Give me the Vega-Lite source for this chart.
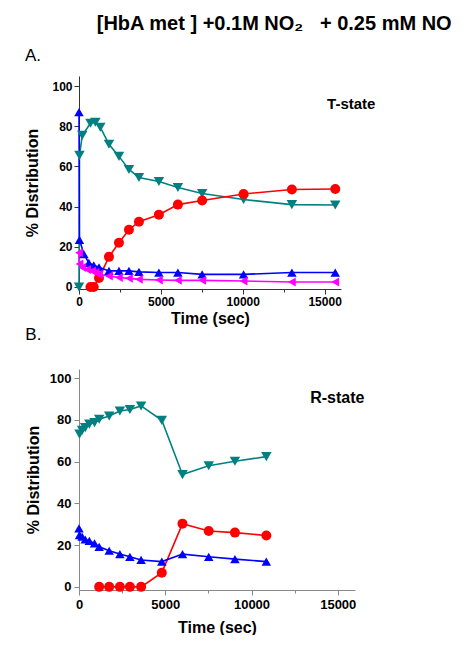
{
  "$schema": "https://vega.github.io/schema/vega-lite/v6.json",
  "padding": {"left": 24, "top": 14, "right": 0, "bottom": 0},
  "background": "white",
  "title": {"text": "[HbA met ] +0.1M NO₂\u00a0\u00a0\u00a0+ 0.25 mM NO", "font": "Liberation Sans", "fontSize": 20, "fontWeight": "bold", "color": "#000", "anchor": "middle", "dx": 74, "offset": 13},
  "datasets": {
    "A": [
      {"series": "teal", "t": 0, "v": 0}, {"series": "teal", "t": 30, "v": 65.5}, {"series": "teal", "t": 200, "v": 75.5}, {"series": "teal", "t": 700, "v": 81.5}, {"series": "teal", "t": 1000, "v": 82}, {"series": "teal", "t": 1300, "v": 79.5}, {"series": "teal", "t": 1830, "v": 71}, {"series": "teal", "t": 2440, "v": 65}, {"series": "teal", "t": 3050, "v": 58.5}, {"series": "teal", "t": 3660, "v": 54.5}, {"series": "teal", "t": 4880, "v": 52.5}, {"series": "teal", "t": 6040, "v": 49.5}, {"series": "teal", "t": 7520, "v": 46.5}, {"series": "teal", "t": 10050, "v": 43.5}, {"series": "teal", "t": 13000, "v": 41}, {"series": "teal", "t": 15650, "v": 40.8},
      {"series": "red", "t": 700, "v": 0}, {"series": "red", "t": 900, "v": 0}, {"series": "red", "t": 1220, "v": 4.5}, {"series": "red", "t": 1830, "v": 15}, {"series": "red", "t": 2440, "v": 22}, {"series": "red", "t": 3050, "v": 28.5}, {"series": "red", "t": 3660, "v": 32.5}, {"series": "red", "t": 4880, "v": 36}, {"series": "red", "t": 6040, "v": 41}, {"series": "red", "t": 7520, "v": 43}, {"series": "red", "t": 10050, "v": 46.3}, {"series": "red", "t": 13000, "v": 48.5}, {"series": "red", "t": 15650, "v": 48.8},
      {"series": "blue", "t": 0, "v": 87}, {"series": "blue", "t": 30, "v": 23.5}, {"series": "blue", "t": 300, "v": 16.3}, {"series": "blue", "t": 600, "v": 12}, {"series": "blue", "t": 900, "v": 10.8}, {"series": "blue", "t": 1220, "v": 9.8}, {"series": "blue", "t": 1830, "v": 8}, {"series": "blue", "t": 2440, "v": 8}, {"series": "blue", "t": 3050, "v": 8}, {"series": "blue", "t": 3660, "v": 7.5}, {"series": "blue", "t": 4880, "v": 7.2}, {"series": "blue", "t": 6040, "v": 7.2}, {"series": "blue", "t": 7520, "v": 6.3}, {"series": "blue", "t": 10050, "v": 6.3}, {"series": "blue", "t": 13000, "v": 7.2}, {"series": "blue", "t": 15650, "v": 7.2},
      {"series": "magenta", "t": 0, "v": 17}, {"series": "magenta", "t": 30, "v": 11.5}, {"series": "magenta", "t": 200, "v": 9.7}, {"series": "magenta", "t": 500, "v": 8.7}, {"series": "magenta", "t": 800, "v": 8}, {"series": "magenta", "t": 1000, "v": 7.2}, {"series": "magenta", "t": 1220, "v": 6.3}, {"series": "magenta", "t": 1830, "v": 5.5}, {"series": "magenta", "t": 2440, "v": 4.7}, {"series": "magenta", "t": 3050, "v": 4.3}, {"series": "magenta", "t": 3660, "v": 3.8}, {"series": "magenta", "t": 4880, "v": 3.5}, {"series": "magenta", "t": 6040, "v": 3.3}, {"series": "magenta", "t": 7520, "v": 3.3}, {"series": "magenta", "t": 10050, "v": 3}, {"series": "magenta", "t": 13000, "v": 2.5}, {"series": "magenta", "t": 15650, "v": 2.5}
    ],
    "B": [
      {"series": "teal", "t": 30, "v": 73.2}, {"series": "teal", "t": 180, "v": 75}, {"series": "teal", "t": 360, "v": 76.3}, {"series": "teal", "t": 600, "v": 78}, {"series": "teal", "t": 900, "v": 78.7}, {"series": "teal", "t": 1170, "v": 80.3}, {"series": "teal", "t": 1750, "v": 81.9}, {"series": "teal", "t": 2370, "v": 84.3}, {"series": "teal", "t": 2950, "v": 85}, {"series": "teal", "t": 3600, "v": 86.7}, {"series": "teal", "t": 4800, "v": 79.8}, {"series": "teal", "t": 6000, "v": 53.8}, {"series": "teal", "t": 7520, "v": 58}, {"series": "teal", "t": 9040, "v": 60.2}, {"series": "teal", "t": 10860, "v": 62.4},
      {"series": "red", "t": 1170, "v": 0}, {"series": "red", "t": 1750, "v": 0}, {"series": "red", "t": 2370, "v": 0}, {"series": "red", "t": 2950, "v": 0}, {"series": "red", "t": 3600, "v": 0}, {"series": "red", "t": 4800, "v": 6.8}, {"series": "red", "t": 6000, "v": 30.3}, {"series": "red", "t": 7520, "v": 26.8}, {"series": "red", "t": 9040, "v": 26}, {"series": "red", "t": 10860, "v": 24.6},
      {"series": "blue", "t": 0, "v": 28}, {"series": "blue", "t": 30, "v": 24.8}, {"series": "blue", "t": 180, "v": 24.1}, {"series": "blue", "t": 360, "v": 22.7}, {"series": "blue", "t": 600, "v": 22}, {"series": "blue", "t": 900, "v": 20.8}, {"series": "blue", "t": 1170, "v": 19.2}, {"series": "blue", "t": 1750, "v": 17.3}, {"series": "blue", "t": 2370, "v": 15.7}, {"series": "blue", "t": 2950, "v": 14.4}, {"series": "blue", "t": 3600, "v": 12.9}, {"series": "blue", "t": 4800, "v": 12.1}, {"series": "blue", "t": 6000, "v": 15.7}, {"series": "blue", "t": 7520, "v": 14.4}, {"series": "blue", "t": 9040, "v": 13.3}, {"series": "blue", "t": 10860, "v": 12.1}
    ]
  },
  "vconcat": [
    {
      "title": {"text": "A.", "anchor": "start", "frame": "bounds", "font": "Liberation Sans", "fontSize": 17, "fontWeight": "normal", "color": "#000", "offset": 11},
      "width": 262,
      "height": 213,
      "layer": [
        {"data": {"name": "A"},
          "mark": {"type": "line", "strokeWidth": 1.6},
          "encoding": {
            "x": {"field": "t", "type": "quantitative", "scale": {"domain": [0, 16000], "nice": false, "zero": false},
              "axis": {"title": "Time (sec)", "values": [0, 2500, 5000, 7500, 10000, 12500, 15000], "format": "d", "labelExpr": "datum.value % 5000 === 0 ? datum.label : ''", "tickSize": {"condition": {"test": "datum.value % 5000 === 0", "value": 5}, "value": 3}, "labelFlush": false, "labelOverlap": false, "grid": false, "domainColor": "#333", "tickColor": "#333", "labelFont": "Liberation Sans", "labelFontSize": 12, "labelFontWeight": "bold", "labelColor": "#000", "titleFont": "Liberation Sans", "titleFontSize": 16, "titleFontWeight": "bold", "titleColor": "#000", "labelPadding": 2, "titlePadding": 3}},
            "y": {"field": "v", "type": "quantitative", "scale": {"domain": [-1, 105], "nice": false, "zero": false},
              "axis": {"title": "% Distribution", "values": [0, 10, 20, 30, 40, 50, 60, 70, 80, 90, 100], "labelExpr": "datum.value % 20 === 0 ? datum.label : ''", "tickSize": {"condition": {"test": "datum.value % 20 === 0", "value": 5}, "value": 3}, "labelOverlap": false, "labelFlush": false, "grid": false, "domainColor": "#333", "tickColor": "#333", "labelFont": "Liberation Sans", "labelFontSize": 12, "labelFontWeight": "bold", "labelColor": "#000", "titleFont": "Liberation Sans", "titleFontSize": 16, "titleFontWeight": "bold", "titleColor": "#000", "labelPadding": 2, "titlePadding": 11}},
            "color": {"field": "series", "type": "nominal", "scale": {"domain": ["teal", "red", "blue", "magenta"], "range": ["#008080", "#FF0000", "#0000FF", "#FF00FF"]}, "legend": null}
          }},
        {"data": {"name": "A"},
          "mark": {"type": "point", "filled": true, "opacity": 1},
          "encoding": {
            "x": {"field": "t", "type": "quantitative"},
            "y": {"field": "v", "type": "quantitative"},
            "color": {"field": "series", "type": "nominal", "legend": null},
            "shape": {"field": "series", "type": "nominal", "scale": {"domain": ["teal", "red", "blue", "magenta"], "range": ["triangle-down", "circle", "triangle-up", "triangle-left"]}, "legend": null},
            "size": {"field": "series", "type": "nominal", "scale": {"domain": ["teal", "red", "blue", "magenta"], "range": [110, 80, 110, 110]}, "legend": null}
          }},
        {"data": {"values": [{"label": "T-state"}]},
          "mark": {"type": "text", "align": "left", "baseline": "middle", "font": "Liberation Sans", "fontSize": 15, "fontWeight": "bold", "fill": "#000"},
          "encoding": {"x": {"datum": 15150, "type": "quantitative"}, "y": {"datum": 91, "type": "quantitative"}, "text": {"field": "label", "type": "nominal"}}}
      ]
    },
    {
      "title": {"text": "B.", "anchor": "start", "frame": "bounds", "font": "Liberation Sans", "fontSize": 17, "fontWeight": "normal", "color": "#000", "offset": 25},
      "width": 276,
      "height": 221,
      "layer": [
        {"data": {"name": "B"},
          "mark": {"type": "line", "strokeWidth": 1.6},
          "encoding": {
            "x": {"field": "t", "type": "quantitative", "scale": {"domain": [0, 16000], "nice": false, "zero": false},
              "axis": {"title": "Time (sec)", "values": [0, 2500, 5000, 7500, 10000, 12500, 15000], "format": "d", "labelExpr": "datum.value % 5000 === 0 ? datum.label : ''", "tickSize": {"condition": {"test": "datum.value % 5000 === 0", "value": 5}, "value": 3}, "labelFlush": false, "labelOverlap": false, "grid": false, "domainColor": "#888", "tickColor": "#888", "labelFont": "Liberation Sans", "labelFontSize": 13, "labelFontWeight": "bold", "labelColor": "#000", "titleFont": "Liberation Sans", "titleFontSize": 16, "titleFontWeight": "bold", "titleColor": "#000", "labelPadding": 3, "titlePadding": 8}},
            "y": {"field": "v", "type": "quantitative", "scale": {"domain": [-1.5, 104.4], "nice": false, "zero": false},
              "axis": {"title": "% Distribution", "values": [0, 10, 20, 30, 40, 50, 60, 70, 80, 90, 100], "labelExpr": "datum.value % 20 === 0 ? datum.label : ''", "tickSize": {"condition": {"test": "datum.value % 20 === 0", "value": 5}, "value": 3}, "labelOverlap": false, "labelFlush": false, "grid": false, "domainColor": "#888", "tickColor": "#888", "labelFont": "Liberation Sans", "labelFontSize": 13, "labelFontWeight": "bold", "labelColor": "#000", "titleFont": "Liberation Sans", "titleFontSize": 16, "titleFontWeight": "bold", "titleColor": "#000", "labelPadding": 3, "titlePadding": 8}},
            "color": {"field": "series", "type": "nominal", "scale": {"domain": ["teal", "red", "blue", "magenta"], "range": ["#008080", "#FF0000", "#0000FF", "#FF00FF"]}, "legend": null}
          }},
        {"data": {"name": "B"},
          "mark": {"type": "point", "filled": true, "opacity": 1},
          "encoding": {
            "x": {"field": "t", "type": "quantitative"},
            "y": {"field": "v", "type": "quantitative"},
            "color": {"field": "series", "type": "nominal", "legend": null},
            "shape": {"field": "series", "type": "nominal", "scale": {"domain": ["teal", "red", "blue", "magenta"], "range": ["triangle-down", "circle", "triangle-up", "triangle-left"]}, "legend": null},
            "size": {"field": "series", "type": "nominal", "scale": {"domain": ["teal", "red", "blue", "magenta"], "range": [110, 80, 110, 110]}, "legend": null}
          }},
        {"data": {"values": [{"label": "R-state"}]},
          "mark": {"type": "text", "align": "left", "baseline": "middle", "font": "Liberation Sans", "fontSize": 16, "fontWeight": "bold", "fill": "#000"},
          "encoding": {"x": {"datum": 13400, "type": "quantitative"}, "y": {"datum": 90.5, "type": "quantitative"}, "text": {"field": "label", "type": "nominal"}}}
      ]
    }
  ],
  "spacing": 0,
  "resolve": {"scale": {"x": "independent", "y": "independent"}},
  "config": {"view": {"stroke": null}}
}
